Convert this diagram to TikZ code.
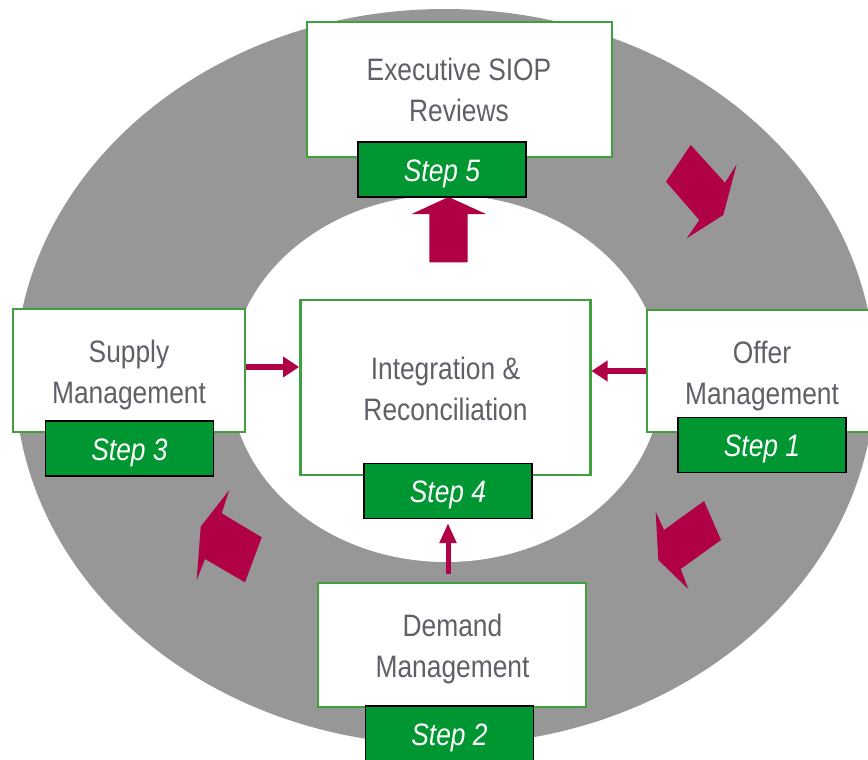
\documentclass[tikz,border=0pt]{standalone}
\usepackage{fontspec}
\setmainfont{Liberation Sans}[FakeStretch=0.85]
\usetikzlibrary{arrows.meta}
\definecolor{ringgray}{RGB}{151,151,151}
\definecolor{crimson}{RGB}{176,0,70}
\definecolor{stepgreen}{RGB}{0,150,50}
\definecolor{boxgreen}{RGB}{64,160,64}
\definecolor{textgray}{RGB}{96,96,104}
\begin{document}
\begin{tikzpicture}[x=1pt,y=-1pt,
  box/.style={draw=boxgreen, line width=2.5pt, fill=white, inner sep=0pt},
  stepbox/.style={draw=black, line width=1.2pt, fill=stepgreen, text=white,
    font=\fontsize{31}{41}\selectfont\itshape, minimum width=168pt, minimum height=55pt,
    text height=29pt, text depth=6pt, inner sep=0pt},
  boxtext/.style={text=textgray, align=center, font=\fontsize{31}{41}\selectfont, inner sep=0pt},
  conn/.style={draw=crimson, line width=5.5pt, -{Triangle[length=16pt,width=20pt]}},
  connv/.style={draw=crimson, line width=5pt, -{Triangle[length=20pt,width=16pt]}},
  blockarrow/.style={fill=crimson},
]
\useasboundingbox (0,0) rectangle (868,760);
\clip (0,0) rectangle (868,760);
% ring
\fill[ringgray] (445,377) ellipse [x radius=430, y radius=368];
\fill[white] (446,378.5) ellipse [x radius=216, y radius=183.5];
% block arrows
\fill[blockarrow] (690.7,145.0) -- (725.0,182.7) -- (736.7,164.3) -- (723.3,215.0)
  -- (686.7,238.3) -- (699.3,220.0) -- (666.0,181.7) -- cycle;
\fill[blockarrow] (704,501) -- (721,540) -- (680.7,569) -- (688.3,589)
  -- (658.3,560) -- (655.7,511.7) -- (664,530) -- cycle;
\fill[blockarrow] (229.3,490) -- (221.7,513.3) -- (261.7,537.3) -- (245,582.3)
  -- (205,559) -- (196.7,580) -- (200.7,526.7) -- cycle;
\fill[blockarrow] (448.5,197) -- (486,214) -- (467.7,214) -- (467.7,262.3)
  -- (429.3,262.3) -- (429.3,214) -- (411.7,214) -- cycle;
% boxes
\node[box, minimum width=305pt, minimum height=135pt] (exec) at (459.5,89.5) {};
\node[box, minimum width=232pt, minimum height=123pt] (supply) at (129,370.5) {};
\node[box, minimum width=229pt, minimum height=122pt] (offer) at (761.5,371) {};
\node[box, minimum width=290pt, minimum height=175pt] (integ) at (445.3,387.5) {};
\node[box, minimum width=268pt, minimum height=124pt] (demand) at (452,645) {};
% box texts
\node[boxtext] (execT) at (459,90) {Executive SIOP\\Reviews};
\node[boxtext] (supplyT) at (129,375) {Supply\\Management};
\node[boxtext] (offerT) at (762,375.5) {Offer\\Management};
\node[boxtext] (integT) at (445.5,388.7) {Integration \&\\Reconciliation};
\node[boxtext] (demandT) at (452.5,649) {Demand\\Management};
% steps
\node[stepbox] (s5) at (442,169.5) {Step 5};
\node[stepbox] (s3) at (129.5,448.5) {Step 3};
\node[stepbox] (s4) at (448,491) {Step 4};
\node[stepbox] (s1) at (762,445) {Step 1};
\node[stepbox] (s2) at (449.5,733.5) {Step 2};
% connectors
\coordinate (a1) at ([yshift=3.5pt]supply.east);
\draw[conn] (a1) -- (a1 -| integ.west);
\draw[conn] (offer.west) -- (offer.west -| integ.east);
\draw[connv, shorten <=8pt, shorten >=4pt] (s4.south |- demand.north) -- (s4.south);
\end{tikzpicture}
\end{document}
